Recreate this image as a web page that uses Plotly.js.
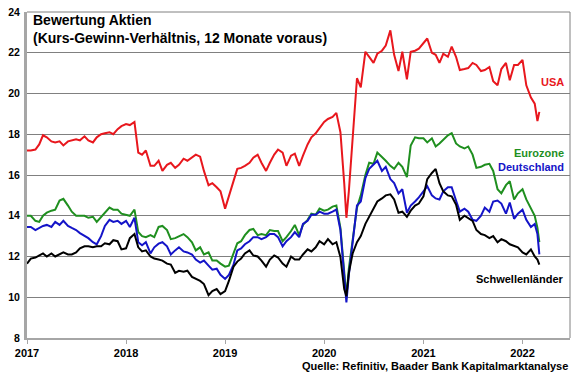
<!DOCTYPE html>
<html>
<head>
<meta charset="utf-8">
<script src="https://cdn.plot.ly/plotly-3.0.1.min.js"></script>
<style>
html,body{margin:0;padding:0;background:#fff;}
#chart{width:580px;height:375px;}
</style>
</head>
<body>
<div id="chart"></div>
<script>
// Semi-monthly observation dates (plus crash/war extremes)
const dates = [
"2017-01-01","2017-01-15","2017-02-01","2017-02-15","2017-03-01","2017-03-15","2017-04-01","2017-04-15","2017-05-01","2017-05-15","2017-06-01","2017-06-15",
"2017-07-01","2017-07-15","2017-08-01","2017-08-15","2017-09-01","2017-09-15","2017-10-01","2017-10-15","2017-11-01","2017-11-15","2017-12-01","2017-12-15",
"2018-01-01","2018-01-15","2018-02-01","2018-02-15","2018-03-01","2018-03-15","2018-04-01","2018-04-15","2018-05-01","2018-05-15","2018-06-01","2018-06-15",
"2018-07-01","2018-07-15","2018-08-01","2018-08-15","2018-09-01","2018-09-15","2018-10-01","2018-10-15","2018-11-01","2018-11-15","2018-12-01","2018-12-15",
"2019-01-01","2019-01-15","2019-02-01","2019-02-15","2019-03-01","2019-03-15","2019-04-01","2019-04-15","2019-05-01","2019-05-15","2019-06-01","2019-06-15",
"2019-07-01","2019-07-15","2019-08-01","2019-08-15","2019-09-01","2019-09-15","2019-10-01","2019-10-15","2019-11-01","2019-11-15","2019-12-01","2019-12-15",
"2020-01-01","2020-01-15","2020-02-01","2020-02-15","2020-03-01","2020-03-15","2020-03-23","2020-04-01","2020-04-15","2020-05-01","2020-05-15","2020-06-01","2020-06-15",
"2020-07-01","2020-07-15","2020-08-01","2020-08-15","2020-09-01","2020-09-15","2020-10-01","2020-10-15","2020-11-01","2020-11-15","2020-12-01","2020-12-15",
"2021-01-01","2021-01-15","2021-02-01","2021-02-15","2021-03-01","2021-03-15","2021-04-01","2021-04-15","2021-05-01","2021-05-15","2021-06-01","2021-06-15",
"2021-07-01","2021-07-15","2021-08-01","2021-08-15","2021-09-01","2021-09-15","2021-10-01","2021-10-15","2021-11-01","2021-11-15","2021-12-01","2021-12-15",
"2022-01-01","2022-01-15","2022-02-01","2022-02-15","2022-02-25","2022-03-04"
];

const usa = [
17.2,17.2,17.25,17.5,17.95,17.85,17.65,17.6,17.65,17.45,17.65,17.7,
17.75,17.7,17.9,17.7,17.6,17.85,18.0,18.05,18.1,18.0,18.25,18.4,
18.5,18.45,18.6,17.1,17.0,17.2,16.45,16.45,16.7,16.2,16.5,16.6,
16.35,16.5,16.8,16.7,16.85,17.0,16.9,16.2,15.5,15.6,15.4,15.2,
14.35,15.0,15.7,16.3,16.35,16.45,16.6,16.85,17.0,16.6,16.2,16.6,
17.0,17.25,17.1,16.45,16.95,17.05,16.45,16.95,17.5,17.85,18.05,18.3,
18.6,18.75,18.85,19.05,18.1,15.6,13.9,15.2,17.9,20.75,20.3,22.05,21.8,
21.5,21.95,22.1,22.35,23.1,21.9,21.1,22.05,20.7,22.05,22.1,22.2,
22.5,22.7,22.0,21.9,21.5,21.95,21.8,22.3,21.8,21.15,21.2,21.25,
21.5,21.4,21.1,21.15,21.3,20.6,20.4,21.2,21.5,20.65,21.4,21.4,
21.65,20.4,19.8,19.5,18.65,19.1
];

const eurozone = [
14.0,14.0,13.75,13.7,14.0,14.15,14.25,14.3,14.75,14.83,14.5,14.2,
14.0,14.0,14.0,13.9,13.95,13.7,13.95,14.15,14.4,14.3,14.3,14.1,
14.05,14.0,14.3,13.2,13.0,12.95,13.05,12.95,13.45,13.5,13.3,12.85,
12.9,13.0,13.1,12.95,12.7,12.3,12.45,12.1,12.2,11.8,11.8,11.65,
11.5,11.55,12.15,12.65,12.75,13.05,13.3,13.35,13.05,13.1,13.05,13.3,
13.25,13.25,12.75,12.95,13.25,13.55,13.05,13.55,13.8,14.1,14.05,14.35,
14.25,14.3,14.45,14.5,13.4,11.3,10.0,11.4,12.9,14.4,15.0,16.0,16.6,
16.55,17.1,16.9,16.7,16.45,16.3,16.6,16.4,15.9,17.45,17.85,17.8,
17.8,17.6,17.8,17.4,17.55,17.75,17.95,18.05,17.55,17.4,17.3,17.4,
17.0,16.35,16.4,16.5,16.55,16.2,15.3,15.1,15.5,15.7,14.8,15.1,
15.3,14.8,14.4,14.0,13.4,12.7
];

const deutschland = [
13.45,13.45,13.3,13.4,13.5,13.55,13.45,13.7,13.55,13.75,13.5,13.4,
13.3,13.15,13.0,12.9,12.7,12.6,13.0,13.5,13.8,13.7,13.75,13.6,
13.75,13.45,13.9,12.7,12.55,12.7,12.15,12.45,12.63,12.7,12.5,12.1,
12.3,12.45,12.25,12.2,12.1,11.85,11.7,11.8,11.55,11.35,11.4,11.1,
10.9,11.1,11.6,12.3,12.4,12.6,12.75,12.95,12.95,12.85,12.95,13.1,
13.1,12.95,12.5,12.75,12.95,13.2,12.95,13.6,13.75,14.05,14.05,14.2,
14.1,14.1,14.2,14.3,13.3,11.0,9.75,11.1,12.6,14.5,14.7,15.85,16.3,
16.5,16.7,16.2,16.4,15.8,15.6,15.1,15.3,14.15,14.5,14.7,14.9,
15.2,15.45,15.0,14.85,14.8,15.2,15.4,15.4,14.75,14.2,14.35,14.2,
13.8,13.75,14.0,14.4,14.2,14.7,14.75,14.6,14.1,14.65,13.85,14.1,
14.3,13.8,13.45,13.6,13.1,12.1
];

const schwellenlaender = [
11.65,11.9,11.95,12.05,12.15,12.0,12.15,12.0,12.1,12.2,12.1,12.1,
12.2,12.4,12.5,12.5,12.45,12.5,12.5,12.65,12.6,12.8,12.75,12.35,
12.4,12.9,13.1,12.45,12.25,12.3,12.0,11.9,11.85,11.8,11.65,11.6,
11.2,11.3,11.25,11.3,11.0,10.9,10.8,10.65,10.1,10.3,10.4,10.15,
10.3,10.8,11.5,11.75,11.9,12.15,12.3,12.05,12.0,11.8,11.5,11.85,
12.05,11.95,11.65,11.5,12.0,11.85,11.85,12.1,12.35,12.25,12.45,12.75,
12.6,12.85,12.6,12.7,11.97,10.4,10.05,11.2,12.15,12.7,13.0,13.6,13.95,
14.3,14.7,14.85,15.0,15.05,14.8,14.15,14.2,13.95,14.25,14.5,14.6,
14.95,15.8,16.1,16.3,15.6,15.2,15.0,14.95,14.55,13.8,14.0,13.9,
13.75,13.3,13.1,13.05,12.9,13.0,12.7,12.85,12.75,12.6,12.5,12.45,
12.2,12.1,12.35,12.0,11.85,11.6
];

const yearTicks = ["2017-01-01","2018-01-01","2019-01-01","2020-01-01","2021-01-01","2022-01-01"];
const yearLabels = ["2017","2018","2019","2020","2021","2022"];
const yTicks = [8,10,12,14,16,18,20,22,24];

const FONT = "Liberation Sans, Arial, sans-serif";
const RED = "#e8171d", GREEN = "#1f8f1f", BLUE = "#1414c8", BLACK = "#000000";

function tr(y, color){
  return {x: dates, y: y, type: "scatter", mode: "lines",
          line: {color: color, width: 2}, hoverinfo: "skip", showlegend: false};
}

const data = [tr(usa, RED), tr(eurozone, GREEN), tr(deutschland, BLUE), tr(schwellenlaender, BLACK)];

function lab(text, color, x, y){
  return {xref: "paper", yref: "paper", x: x, y: y, xanchor: "right", yanchor: "middle",
          text: "<b>" + text + "</b>", showarrow: false,
          font: {family: FONT, size: 11, color: color}};
}

const layout = {
  width: 580, height: 375,
  margin: {l: 27, r: 10, t: 12, b: 37},
  paper_bgcolor: "#ffffff", plot_bgcolor: "#ffffff",
  font: {family: FONT, size: 11, color: "#000"},
  xaxis: {
    type: "date", range: ["2017-01-01", "2022-06-25"],
    tickvals: yearTicks, ticktext: yearLabels.map(t => "<b>" + t + "</b>"),
    tickfont: {family: FONT, size: 11, color: "#000"},
    showgrid: false, zeroline: false,
    showline: true, linecolor: "#a6a6a6", linewidth: 2,
    ticks: "outside", ticklen: 4, tickcolor: "#a6a6a6", tickwidth: 1
  },
  yaxis: {
    range: [8, 24],
    tickvals: yTicks, ticktext: yTicks.map(t => "<b>" + t + "</b>"),
    tickfont: {family: FONT, size: 10.5, color: "#000"},
    showgrid: true, gridcolor: "#808080", gridwidth: 1,
    zeroline: false, showline: true, linecolor: "#a6a6a6", linewidth: 3,
    ticks: "", ticklabelstandoff: 2
  },
  shapes: [
    {type: "line", xref: "paper", yref: "paper", x0: 0, x1: 1, y0: 1, y1: 1, line: {color: "#808080", width: 1}},
    {type: "line", xref: "paper", yref: "paper", x0: 1, x1: 1, y0: 0, y1: 1, line: {color: "#808080", width: 1}}
  ],
  annotations: [
    {xref: "paper", yref: "paper", x: 0.008, y: 1.005, xanchor: "left", yanchor: "top", align: "left",
     text: "<b>Bewertung Aktien<br>(Kurs-Gewinn-Verhältnis, 12 Monate voraus)</b>", showarrow: false,
     font: {family: FONT, size: 14, color: "#000"}},
    lab("USA", RED, 0.993, 0.785),
    lab("Eurozone", GREEN, 0.993, 0.568),
    lab("Deutschland", BLUE, 0.993, 0.525),
    lab("Schwellenländer", BLACK, 0.993, 0.18),
    {xref: "paper", yref: "paper", x: 1.0, y: -0.086, xanchor: "right", yanchor: "middle",
     text: "<b>Quelle: Refinitiv, Baader Bank Kapitalmarktanalyse</b>", showarrow: false,
     font: {family: FONT, size: 11, color: "#000"}}
  ]
};

Plotly.newPlot("chart", data, layout, {staticPlot: true, displayModeBar: false});
</script>
</body>
</html>
